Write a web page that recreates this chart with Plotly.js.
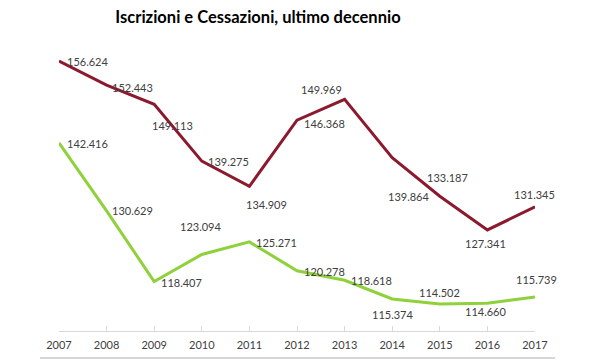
<!DOCTYPE html>
<html>
<head>
<meta charset="utf-8">
<script src="https://cdn.plot.ly/plotly-3.0.1.min.js"></script>
<style>html,body{margin:0;padding:0;background:#fff;}#chart{width:600px;height:360px;}</style>
</head>
<body>
<div id="chart"></div>
<script>
const years = [2007, 2008, 2009, 2010, 2011, 2012, 2013, 2014, 2015, 2016, 2017];
const seriesRed = [156624, 152443, 149113, 139275, 134909, 146368, 149969, 139864, 133187, 127341, 131345];
const seriesGreen = [142416, 130629, 118407, 123094, 125271, 120278, 118618, 115374, 114502, 114660, 115739];
const titleText = 'Iscrizioni e Cessazioni, ultimo decennio';

// label offsets (px) for data labels
const redShift = [[28,-1],[26,-2],[18,-21],[27,0],[17,-18],[27,-3],[-23,10],[16,-39],[8,19],[-2,-14],[-1,12]];
const greenShift = [[28,-1],[26,0],[27,-1],[-1,28],[27,-1],[27,-1],[27,0],[0,-15],[0,12],[-2,-8],[1,17]];

function fmt(v){ return Math.floor(v/1000) + '.' + String(v % 1000).padStart(3,'0'); }

const RED = '#8b1a2f', GREEN = '#8fd13a';

const traces = [
  {x: years, y: seriesRed, type: 'scatter', mode: 'lines', line: {color: RED, width: 3}, hoverinfo: 'skip'},
  {x: years, y: seriesGreen, type: 'scatter', mode: 'lines', line: {color: GREEN, width: 3}, hoverinfo: 'skip'}
];

const annotations = [];
function addLabels(vals, shifts){
  vals.forEach((v, i) => {
    annotations.push({x: years[i], y: v, xref: 'x', yref: 'y', text: fmt(v), showarrow: false,
      xanchor: 'center', yanchor: 'middle', xshift: shifts[i][0], yshift: shifts[i][1],
      font: {family: 'Lato, sans-serif', size: 11, color: '#404040'}});
  });
}
addLabels(seriesRed, redShift);
addLabels(seriesGreen, greenShift);

const layout = {
  width: 600, height: 360,
  margin: {l: 59, r: 65, t: 40, b: 29},
  paper_bgcolor: '#fff', plot_bgcolor: '#fff',
  showlegend: false,
  title: {text: '<b>' + titleText + '</b>', x: 258/600, xanchor: 'center', y: 0.953, yanchor: 'middle',
    font: {family: 'Lato, sans-serif', size: 16.5, color: '#000'}},
  xaxis: {range: [2007, 2017], tickvals: years, ticktext: years.map(String), showgrid: false, zeroline: false,
    showline: true, linecolor: '#d9d9d9', linewidth: 1, ticks: 'inside', ticklen: 5, tickcolor: '#d9d9d9',
    ticklabelstandoff: 4,
    tickfont: {family: 'Lato, sans-serif', size: 11, color: '#404040'}, fixedrange: true},
  yaxis: {range: [109830, 160260], visible: false, fixedrange: true},
  annotations: annotations,
  shapes: [{type: 'line', xref: 'paper', yref: 'paper', x0: -0.04, x1: 1.042, y0: -0.093, y1: -0.093,
    line: {color: '#c8c8c8', width: 1.5}}]
};

Plotly.newPlot('chart', traces, layout, {displayModeBar: false, staticPlot: true});
</script>
</body>
</html>
